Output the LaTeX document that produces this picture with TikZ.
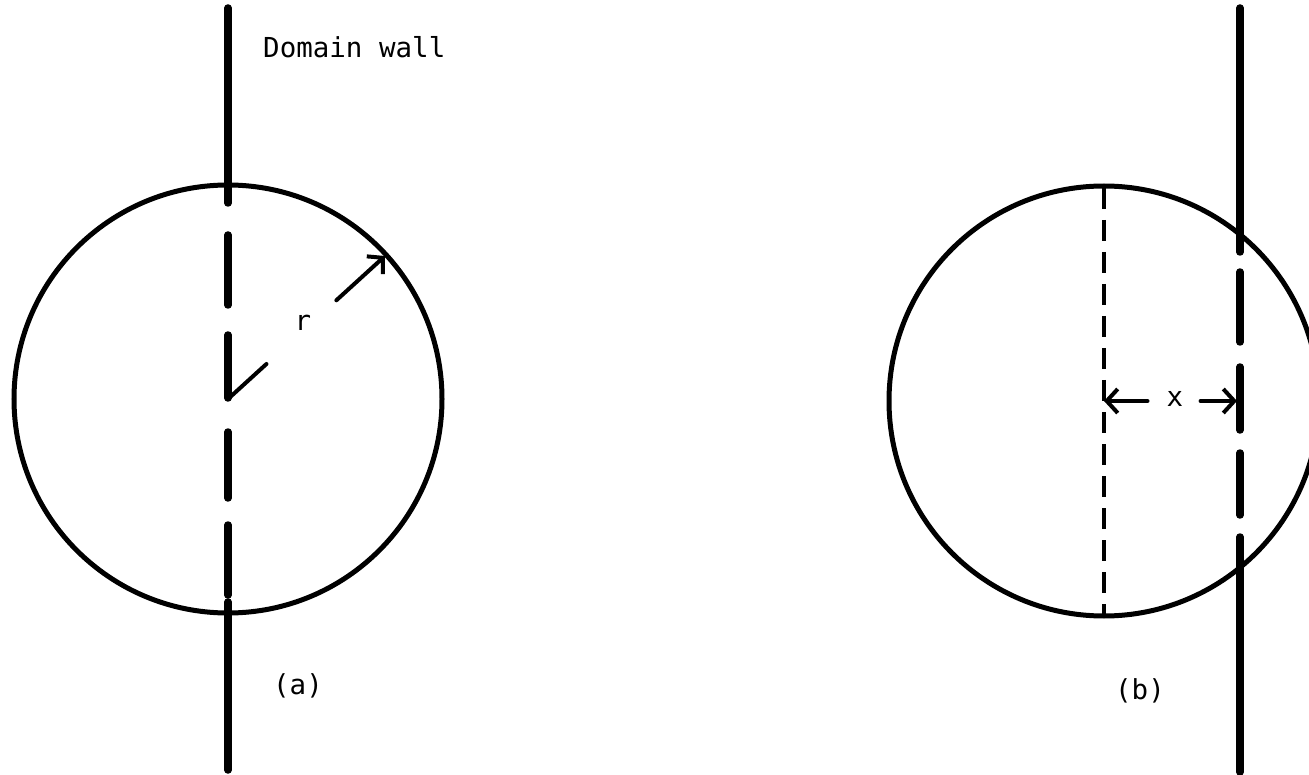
\documentclass[tikz,border=0pt]{standalone}
\usepackage{fontspec}
\setmonofont{DejaVu Sans Mono}
\usepackage{tikz}
\usetikzlibrary{arrows.meta,calc}

\begin{document}
\begin{tikzpicture}[x=1pt,y=-1pt,line cap=round,
    wall/.style={line width=7.5pt},
    rim/.style={line width=5pt},
    arr/.style={line width=4pt,-{Straight Barb[length=11pt,width=24pt,line width=4pt]}},
    lbl/.style={font=\fontsize{27.5}{30}\selectfont\ttfamily,inner sep=0pt}]
  \useasboundingbox (0,0) rectangle (1309,775);
  \clip (0,0) rectangle (1309,775);
  % (a)
  \coordinate (ca) at (228,399);
  \coordinate (ra) at (385,256);
  \draw[rim] (ca) circle (214);
  \draw[wall] (228,8) -- (228,203);
  \foreach \ya/\yb in {235/305,335/398,432/498,525/595}
    \draw[wall] (228,\ya) -- (228,\yb);
  \draw[wall] (228,602) -- (228,770);
  \node[lbl,anchor=base west] (wall) at (263,58) {Domain wall};
  \node[lbl] (r) at (303,323) {r};
  \draw[line width=4pt] (ca) -- ($(ca)!0.245!(ra)$);
  \draw[arr] ($(ca)!0.69!(ra)$) -- (ra);
  \node[lbl] (a) at (298,686) {(a)};
  % (b)
  \coordinate (cb) at (1104,401);
  \coordinate (db) at (1240,401);
  \draw[rim] (cb) circle (215);
  \draw[line width=3.5pt,line cap=butt,dash pattern=on 21pt off 11pt] (1104,188) -- (1104,614);
  \draw[wall] (1240,8) -- (1240,252);
  \foreach \ya/\yb in {272/342,367/430,453/515}
    \draw[wall] (1240,\ya) -- (1240,\yb);
  \draw[wall] (1240,537) -- (1240,772);
  \node[lbl] (x) at (1175,399) {x};
  \draw[arr] ($(cb)!0.32!(db)$) -- (cb);
  \draw[arr] ($(cb)!0.71!(db)$) -- ($(db)+(-3,0)$);
  \node[lbl] (b) at (1140,691) {(b)};
\end{tikzpicture}
\end{document}
